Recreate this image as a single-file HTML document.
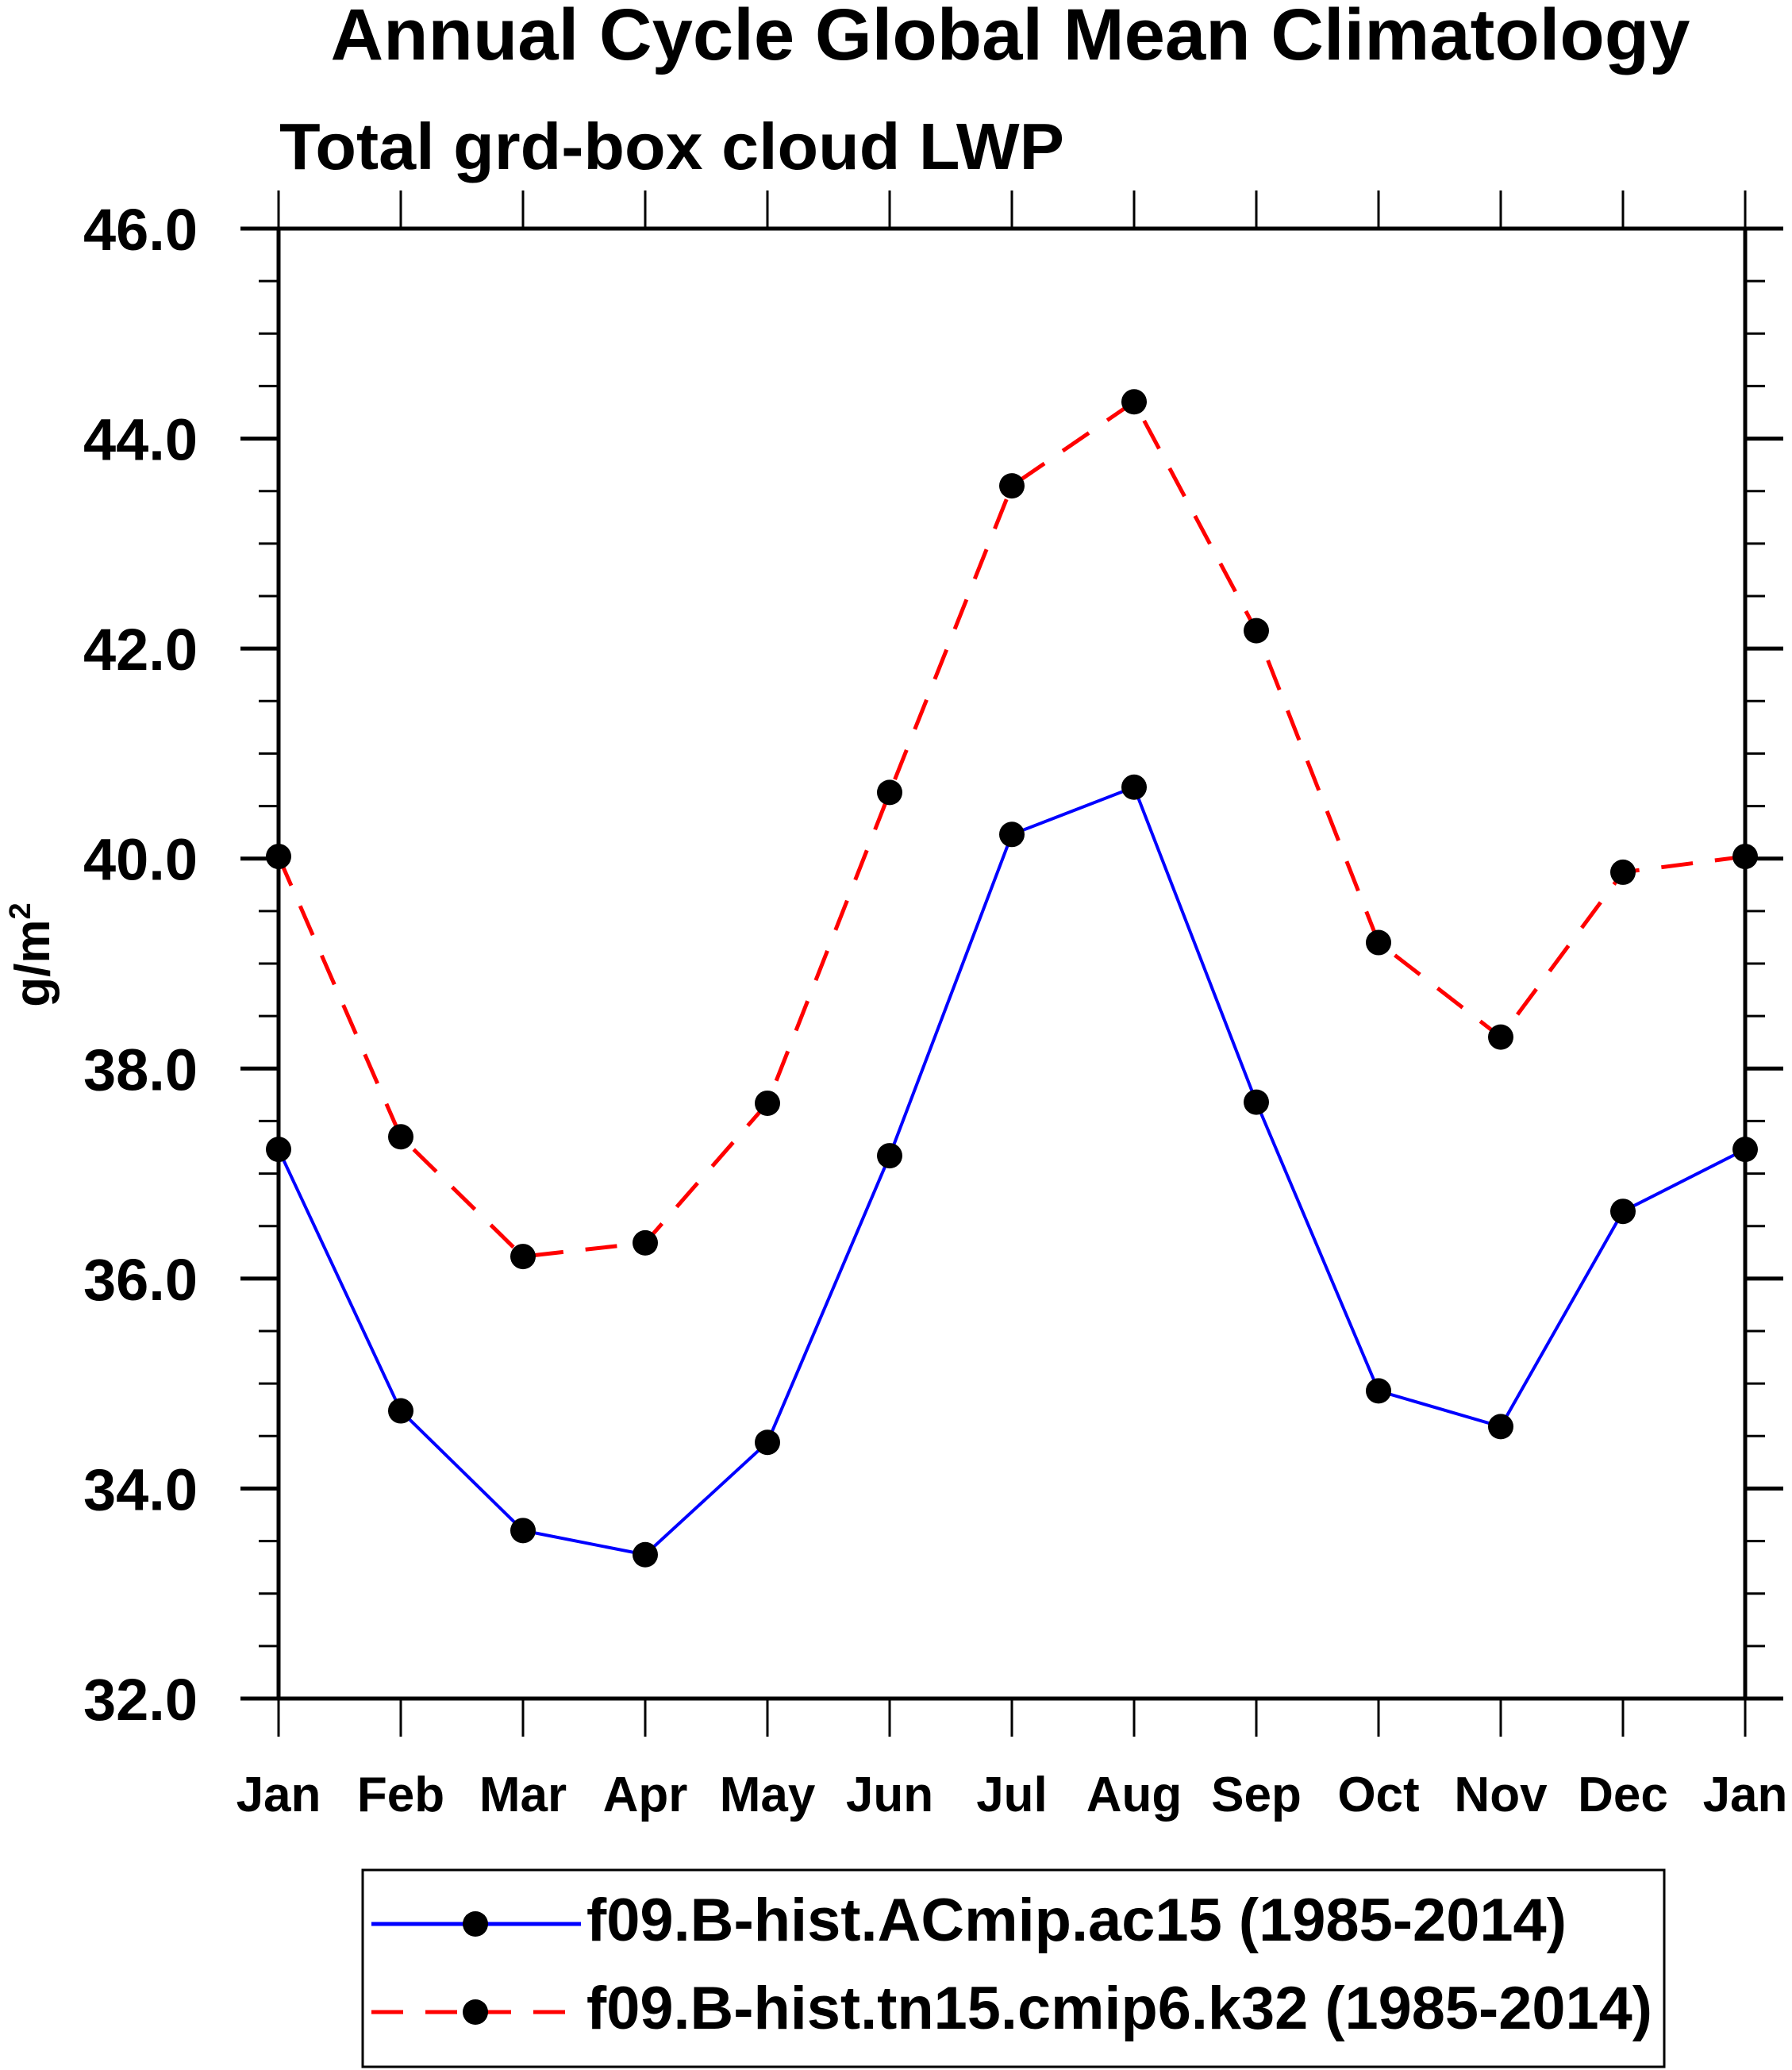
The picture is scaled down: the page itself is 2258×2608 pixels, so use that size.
<!DOCTYPE html>
<html><head><meta charset="utf-8"><style>
html,body{margin:0;padding:0;background:#fff;}
svg{display:block;font-family:"Liberation Sans",Arial,sans-serif;font-weight:bold;}
</style></head><body>
<svg id="chart" width="2258" height="2608" viewBox="0 0 2258 2608" xmlns="http://www.w3.org/2000/svg">
<rect width="2258" height="2608" fill="#fff"/>
<text x="1273" y="75" font-size="92" text-anchor="middle" textLength="1713" lengthAdjust="spacingAndGlyphs">Annual Cycle Global Mean Climatology</text>
<text x="352" y="213" font-size="83" textLength="989" lengthAdjust="spacingAndGlyphs">Total grd-box cloud LWP</text>
<text transform="translate(62,1203) rotate(-90)" font-size="62" text-anchor="middle">g/m<tspan font-size="38" dy="-24">2</tspan></text>
<g id="axes"></g>
<g id="series"></g>
<g>
<rect x="457" y="2356" width="1640" height="248" fill="none" stroke="#000" stroke-width="3"/>
<g>
<line x1="468" y1="2424" x2="732" y2="2424" stroke="#0000ff" stroke-width="5"/>
<circle cx="599" cy="2424" r="16" fill="#000"/>
<text x="739" y="2445" font-size="76" textLength="1235" lengthAdjust="spacingAndGlyphs">f09.B-hist.ACmip.ac15 (1985-2014)</text>
</g>
<g>
<line x1="468" y1="2535" x2="732" y2="2535" stroke="#ff0000" stroke-width="5" stroke-dasharray="40 28"/>
<circle cx="599" cy="2535" r="16" fill="#000"/>
<text x="739" y="2556" font-size="76" textLength="1343" lengthAdjust="spacingAndGlyphs">f09.B-hist.tn15.cmip6.k32 (1985-2014)</text>
</g>
</g>
</svg>
<script>
const months = ["Jan","Feb","Mar","Apr","May","Jun","Jul","Aug","Sep","Oct","Nov","Dec","Jan"];
const yTicks = [32,34,36,38,40,42,44,46];
const yTickLabels = ["32.0","34.0","36.0","38.0","40.0","42.0","44.0","46.0"];
const seriesAC = [37.23,34.74,33.60,33.37,34.44,37.17,40.23,40.68,37.68,34.93,34.59,36.64,37.23];
const seriesTN = [40.02,37.35,36.21,36.34,37.67,40.63,43.55,44.35,42.17,39.20,38.30,39.87,40.02];

const NS="http://www.w3.org/2000/svg";
const L=351,R=2199,T=288,B=2140,ymin=32,ymax=46;
const xs=i=>L+(R-L)*i/(months.length-1);
const ys=v=>B-(B-T)*(v-ymin)/(ymax-ymin);
function mk(tag,attrs,parent){const e=document.createElementNS(NS,tag);for(const k in attrs)e.setAttribute(k,attrs[k]);parent.appendChild(e);return e;}
const ax=document.getElementById('axes');
const fr=mk('rect',{x:L,y:T,width:R-L,height:B-T,fill:'none',stroke:'#000','stroke-width':5},ax);


months.forEach((m,i)=>{
  const x=xs(i);
  const t1=mk('line',{x1:x,y1:B,x2:x,y2:B+48,stroke:'#000','stroke-width':3},ax);
  
  
  const t2=mk('line',{x1:x,y1:T,x2:x,y2:T-48,stroke:'#000','stroke-width':3},ax);
  
  
  const tx=mk('text',{x:x,y:2282,'font-size':62,'text-anchor':'middle'},ax);
  tx.textContent=m;
  
  
});
for(let v=ymin;v<=ymax+1e-9;v+=0.5){
  const major=Math.abs(v-Math.round(v/2)*2)<1e-9;
  const len=major?48:25,y=ys(v);
  const a=mk('line',{x1:L,y1:y,x2:L-len,y2:y,stroke:'#000','stroke-width':major?5:3},ax);
  
  
  const b=mk('line',{x1:R,y1:y,x2:R+len,y2:y,stroke:'#000','stroke-width':major?5:3},ax);
  
  
}
yTicks.forEach((v,i)=>{
  const t=mk('text',{x:249,y:ys(v)+27,'font-size':74,'text-anchor':'end'},ax);
  t.textContent=yTickLabels[i];
  
  
});
const sg=document.getElementById('series');
function drawSeries(vals,color,dash,name){
  const g=mk('g',{},sg);
  
  
  const pts=vals.map((v,i)=>xs(i)+','+ys(v)).join(' ');
  const attrs={points:pts,fill:'none',stroke:color,'stroke-width':dash?5:4};
  if(dash)attrs['stroke-dasharray']='40 28';
  const pl=mk('polyline',attrs,g);
  
  
  vals.forEach((v,i)=>{
    const c=mk('circle',{cx:xs(i),cy:ys(v),r:16,fill:'#000'},g);
    
    
  });
}
drawSeries(seriesAC,'#0000ff',false,'series-ac15');
drawSeries(seriesTN,'#ff0000',true,'series-k32');
</script>
</body></html>
